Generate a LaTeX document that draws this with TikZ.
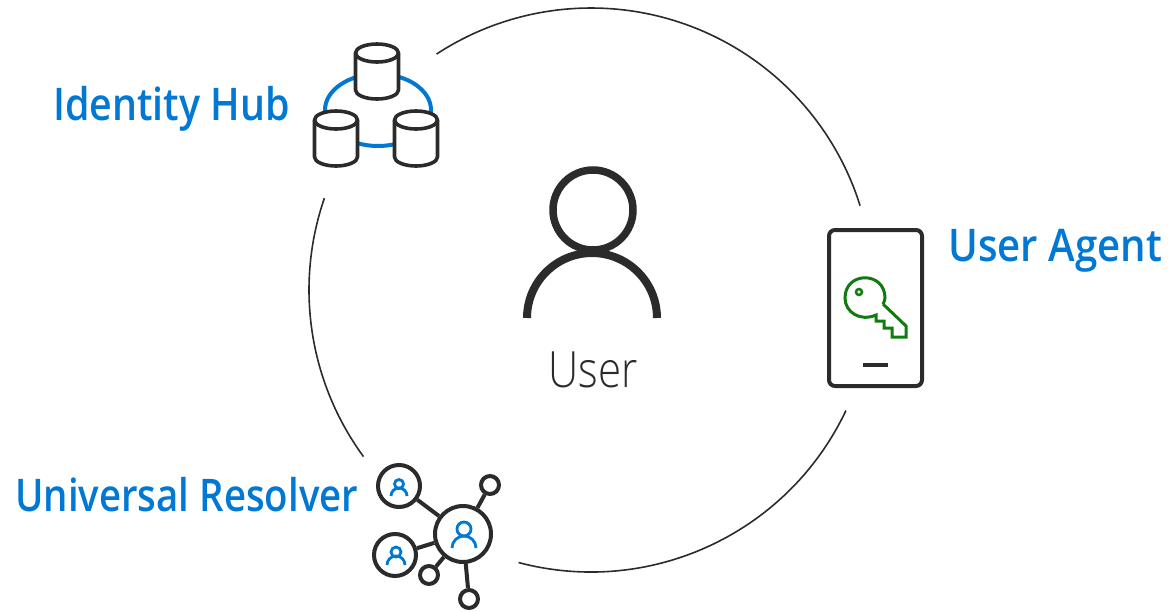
\documentclass[tikz,border=0pt]{standalone}
\usepackage{fontspec}
\setmainfont{Open Sans Light}
\newfontfamily\labelfont[FakeStretch=0.875]{Open Sans Semibold}
\newfontfamily\agentfont[FakeStretch=0.893]{Open Sans Semibold}
\newfontfamily\resolverfont[FakeStretch=0.853]{Open Sans Semibold}
\newfontfamily\userfont[FakeStretch=0.84]{Open Sans Light}
\definecolor{msblue}{HTML}{0078D4}
\definecolor{msgreen}{HTML}{107C10}
\definecolor{ink}{HTML}{2B2B2B}
\tikzset{
  ring/.style={draw=ink,line width=1.6pt},
  title/.style={text=msblue,font=#1\fontsize{45}{48}\selectfont,anchor=base west,inner sep=0pt},
  cyl/.style={draw=ink,line width=3.6pt,fill=white,line join=round},
  peer/.style={circle,draw=ink,line width=4pt,fill=white,inner sep=0pt,minimum size=#1},
  link/.style={draw=ink,line width=4pt},
  face/.style={draw=msblue,line width=2.8pt},
  keyline/.style={draw=msgreen,line width=3pt,line join=miter}
}
\begin{document}
\begin{tikzpicture}[x=1pt,y=-1pt]
\useasboundingbox (0,0) rectangle (1171,611);
\coordinate (hub) at (591,290);
% ring
\draw[ring] (hub) ++(-123.2:282) arc[start angle=-123.2,end angle=-17.4,radius=282];
\draw[ring] (hub) ++(25.3:282) arc[start angle=25.3,end angle=104.9,radius=282];
\draw[ring] (hub) ++(143.8:282) arc[start angle=143.8,end angle=199,radius=282];
% user
\draw[draw=ink,line width=7.5pt] (593,210) circle[radius=40];
\draw[draw=ink,line width=8pt] (527,318) arc[start angle=180,end angle=360,radius=65];
\node[text=ink,font=\userfont\fontsize{50}{54}\selectfont,inner sep=0pt,anchor=base] (user) at (593,387) {User};
% identity hub
\draw[draw=msblue,line width=4pt] (378,110) ellipse[x radius=53,y radius=36];
\foreach \cx/\cy in {377/53,336/120,416/120}{
  \draw[cyl] (\cx-21.5,\cy) -- (\cx-21.5,\cy+37) arc[start angle=180,end angle=0,x radius=21.5,y radius=9] -- (\cx+21.5,\cy)
    arc[start angle=0,end angle=-180,x radius=21.5,y radius=9] -- cycle;
  \draw[cyl,fill=none] (\cx-21.5,\cy) arc[start angle=180,end angle=0,x radius=21.5,y radius=9];
}
\node[title=\labelfont] (hubname) at (53,120) {Identity Hub};
% user agent
\draw[draw=ink,line width=4pt,rounded corners=6pt] (829,230) rectangle (922,386);
\draw[draw=ink,line width=4pt] (863,365) -- (888,365);
\draw[keyline] (883,304) -- (906,326) -- (906,337) -- (892,337) -- (892,328) -- (884,328) -- (884,321) -- (876,321) -- (876,315)
  .. controls (860,322) and (845,312) .. (845,298) .. controls (845,271) and (885,271) .. (885,298) .. controls (885,300) and (884,302) .. (883,304);
\draw[draw=msgreen,line width=2.5pt] (859,292) circle[radius=3];
\node[title=\agentfont] (agentname) at (948,261) {User Agent};
% resolver
\node[peer=56pt] (main) at (463,534) {};
\node[peer=42pt] (peera) at (399,486) {};
\node[peer=42pt] (peerb) at (395,555) {};
\node[peer=18pt] (dota) at (490,485) {};
\node[peer=18pt] (dotb) at (429,575) {};
\node[peer=18pt] (dotc) at (469,599) {};
\foreach \to in {peera,peerb,dota,dotb,dotc}
  \draw[link] (main) -- (\to);
\draw[face] (464,529) circle[radius=7];
\draw[face] (452,548) arc[start angle=180,end angle=360,radius=12];
\draw[face] (399,484) circle[radius=4.5];
\draw[face] (391,496) arc[start angle=180,end angle=360,radius=8];
\draw[face] (396,552) circle[radius=5];
\draw[face] (387,565) arc[start angle=180,end angle=360,radius=9];
\node[title=\resolverfont] (resolvername) at (15,511) {Universal Resolver};
\end{tikzpicture}
\end{document}
